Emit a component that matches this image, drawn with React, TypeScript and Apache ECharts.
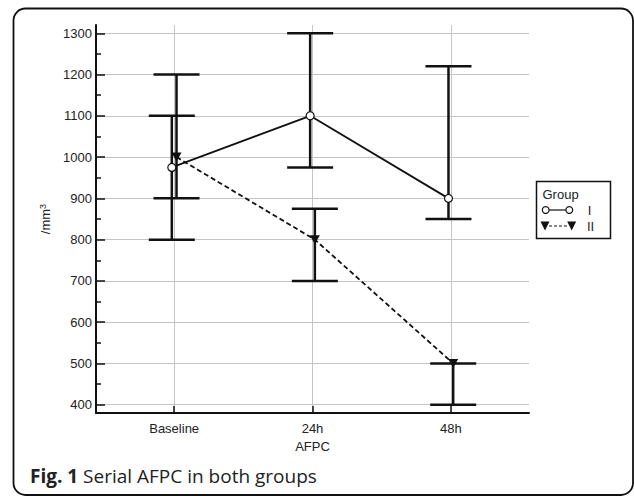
import React, { useEffect, useRef } from "react";
import * as echarts from "echarts";

const categories = ["Baseline", "24h", "48h"];
const groupNames = ["I", "II"];
const groupIMean = [975, 1100, 900];
const groupILow = [800, 975, 850];
const groupIHigh = [1100, 1300, 1220];
const groupIIMean = [1000, 800, 500];
const groupIILow = [900, 700, 400];
const groupIIHigh = [1200, 875, 500];
const yTicks = [400, 500, 600, 700, 800, 900, 1000, 1100, 1200, 1300];
const yMinorTicks = [450, 550, 650, 750, 850, 950, 1050, 1150, 1250];

const OFFSET = 0.017;
const FONT = "Liberation Sans, Arial, sans-serif";

export default function App() {
  const ref = useRef<HTMLDivElement>(null);
  useEffect(() => {
    document.body.style.margin = "0";
    const chart = echarts.init(ref.current!, null, { renderer: "svg" });
    const xIdx = categories.map((_, i) => i);
    const errI = xIdx.map((i) => [i - OFFSET, groupILow[i], groupIHigh[i]]);
    const errII = xIdx.map((i) => [i + OFFSET, groupIILow[i], groupIIHigh[i]]);
    const lineI = xIdx.map((i) => [i - OFFSET, groupIMean[i]]);
    const lineII = xIdx.map((i) => [i + OFFSET, groupIIMean[i]]);

    const errRender = (params: any, api: any) => {
      const x = api.value(0);
      const pLo = api.coord([x, api.value(1)]);
      const pHi = api.coord([x, api.value(2)]);
      const hw = 23;
      const st = { stroke: "#111", lineWidth: 2.5 };
      return {
        type: "group",
        children: [
          { type: "line", shape: { x1: pLo[0], y1: pLo[1], x2: pHi[0], y2: pHi[1] }, style: st },
          { type: "line", shape: { x1: pLo[0] - hw, y1: pLo[1], x2: pLo[0] + hw, y2: pLo[1] }, style: st },
          { type: "line", shape: { x1: pHi[0] - hw, y1: pHi[1], x2: pHi[0] + hw, y2: pHi[1] }, style: st },
        ],
      };
    };

    const option: any = {
      animation: false,
      backgroundColor: "#fff",
      grid: { left: 96, top: 25, right: 105, bottom: 83, containLabel: false },
      xAxis: {
        type: "value",
        min: -0.565,
        max: 2.565,
        splitNumber: 3,
        name: "AFPC",
        nameLocation: "middle",
        nameGap: 27,
        nameTextStyle: { fontFamily: FONT, fontSize: 13, color: "#222" },
        axisLine: { show: true, onZero: false, lineStyle: { color: "#111", width: 2 } },
        axisTick: { show: true, inside: true, length: 7, customValues: xIdx, lineStyle: { color: "#111", width: 1.5 } },
        axisLabel: {
          customValues: xIdx,
          margin: 9,
          fontFamily: FONT,
          fontSize: 13,
          color: "#222",
          formatter: (v: number) => categories[Math.round(v)] ?? "",
        },
        splitLine: { show: true, lineStyle: { color: "#c4c4c4", width: 1 } },
      },
      yAxis: [
        {
          type: "value",
          min: 380,
          max: 1320,
          splitNumber: 10,
          name: "/mm{sup|3}",
          nameLocation: "middle",
          nameGap: 43,
          nameTextStyle: {
            fontFamily: FONT,
            fontSize: 13,
            color: "#222",
            rich: { sup: { fontSize: 9, verticalAlign: "top", padding: [0, 0, 6, 0], fontFamily: FONT, color: "#222" } },
          },
          axisLine: { show: true, onZero: false, lineStyle: { color: "#111", width: 2 } },
          axisTick: { show: true, inside: true, length: 9, customValues: yTicks, lineStyle: { color: "#111", width: 1.5 } },
          axisLabel: {
            customValues: yTicks,
            margin: 4,
            fontFamily: FONT,
            fontSize: 13,
            color: "#222",
            formatter: (v: number) => String(v),
          },
          splitLine: { show: true, lineStyle: { color: "#c4c4c4", width: 1 } },
        },
        {
          type: "value",
          min: 380,
          max: 1320,
          position: "left",
          axisLine: { show: false, onZero: false },
          axisTick: { show: true, inside: true, length: 5, customValues: yMinorTicks, lineStyle: { color: "#111", width: 1.5 } },
          axisLabel: { show: false },
          splitLine: { show: false },
        },
      ],
      series: [
        { type: "custom", name: "errI", renderItem: errRender, data: errI, z: 2 },
        { type: "custom", name: "errII", renderItem: errRender, data: errII, z: 2 },
        {
          type: "line",
          name: groupNames[0],
          data: lineI,
          z: 3,
          symbol: "circle",
          symbolSize: 8,
          lineStyle: { color: "#111", width: 1.8 },
          itemStyle: { color: "#fff", borderColor: "#111", borderWidth: 1.2 },
        },
        {
          type: "line",
          name: groupNames[1],
          data: lineII,
          z: 3,
          symbol: "triangle",
          symbolRotate: 180,
          symbolSize: [10, 9],
          lineStyle: { color: "#111", width: 1.8, type: [5, 3] },
          itemStyle: { color: "#111", borderColor: "#111", borderWidth: 0 },
        },
      ],
      graphic: [
        {
          type: "rect",
          shape: { x: 13.5, y: 8.5, width: 619.5, height: 486.5, r: 12 },
          style: { fill: "none", stroke: "#111", lineWidth: 1.8 },
          z: -10,
          silent: true,
        },
        {
          type: "group",
          children: [
            { type: "rect", shape: { x: 536.5, y: 181.5, width: 74, height: 57 }, style: { fill: "#fff", stroke: "#111", lineWidth: 1.5 } },
            { type: "text", x: 542.5, y: 194, style: { text: "Group", fontFamily: FONT, fontSize: 13, fill: "#222", verticalAlign: "middle" } },
            { type: "line", shape: { x1: 549, y1: 210, x2: 566, y2: 210 }, style: { stroke: "#111", lineWidth: 1.2 } },
            { type: "circle", shape: { cx: 545.7, cy: 210, r: 3.4 }, style: { fill: "#fff", stroke: "#111", lineWidth: 1.2 } },
            { type: "circle", shape: { cx: 569.3, cy: 210, r: 3.4 }, style: { fill: "#fff", stroke: "#111", lineWidth: 1.2 } },
            { type: "text", x: 589.5, y: 210, style: { text: groupNames[0], fontFamily: FONT, fontSize: 13, fill: "#222", verticalAlign: "middle", align: "center" } },
            { type: "line", shape: { x1: 549, y1: 226, x2: 568, y2: 226 }, style: { stroke: "#111", lineWidth: 1.2, lineDash: [3, 2] } },
            { type: "polygon", shape: { points: [[540.5, 221.5], [549.5, 221.5], [545, 230.5]] }, style: { fill: "#111" } },
            { type: "polygon", shape: { points: [[567.2, 221.5], [576.2, 221.5], [571.7, 230.5]] }, style: { fill: "#111" } },
            { type: "text", x: 590.5, y: 226, style: { text: groupNames[1], fontFamily: FONT, fontSize: 13, fill: "#222", verticalAlign: "middle", align: "center" } },
          ],
        },
        {
          type: "text",
          x: 30,
          y: 476,
          style: {
            text: "{b|Fig. 1} Serial AFPC in both groups",
            fontFamily: "Open Sans, sans-serif",
            fontSize: 19,
            fill: "#222",
            verticalAlign: "middle",
            rich: { b: { fontFamily: "Open Sans, sans-serif", fontSize: 19, fontWeight: "bold", fill: "#222" } },
          },
        },
      ],
    };
    chart.setOption(option);
    return () => chart.dispose();
  }, []);
  return <div ref={ref} style={{ position: "fixed", left: 0, top: 0, width: 634, height: 496 }} />;
}
